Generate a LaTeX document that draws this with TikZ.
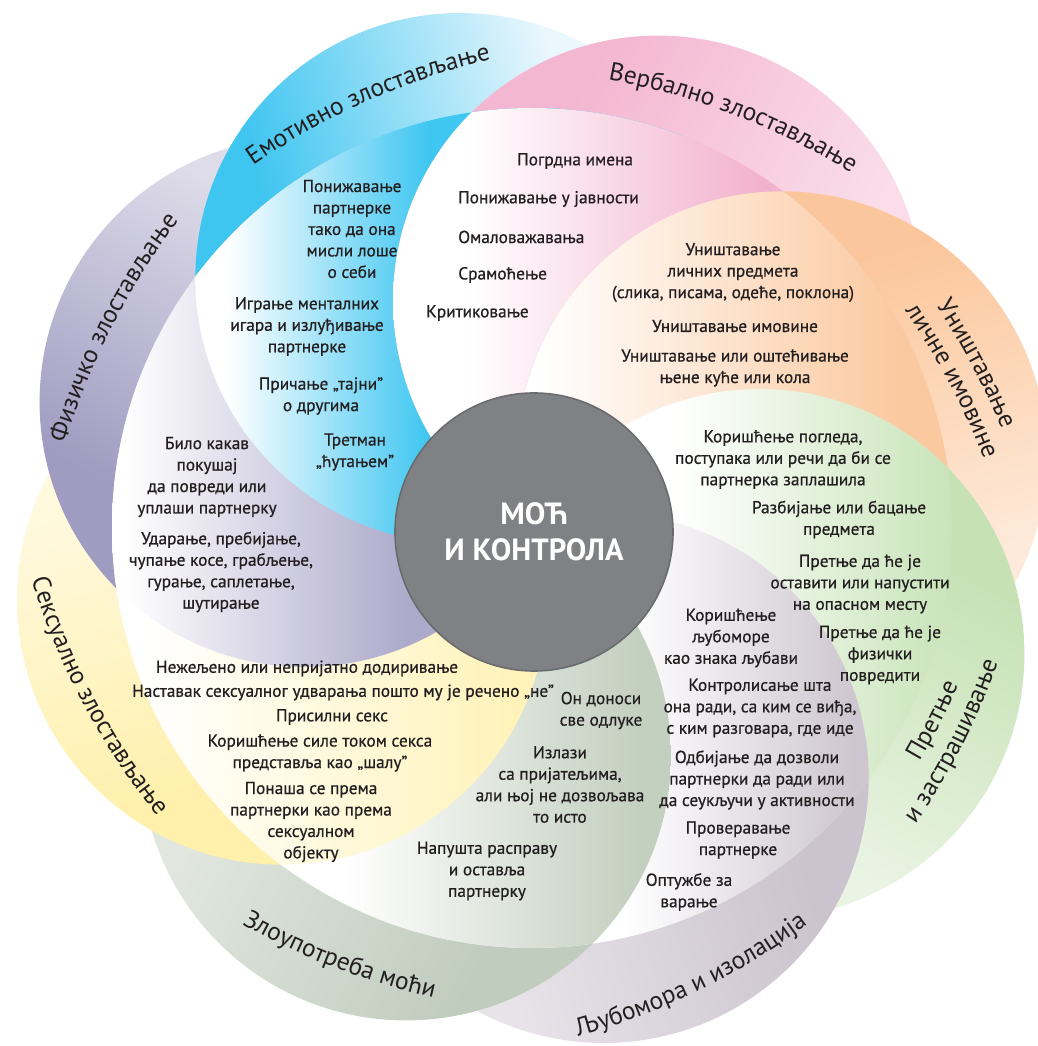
\documentclass[tikz,border=0pt]{standalone}
\usepackage{fontspec}
\setmainfont{PT Sans}
\newfontfamily\itemfont{PT Sans}[FakeBold=0.7]
\usetikzlibrary{calc,decorations.text}

\definecolor{textc}{HTML}{231F20}
\definecolor{hubc}{HTML}{808184}
\definecolor{hubline}{HTML}{6A6B6E}
% band start, band end and inner colour of each petal
\definecolor{emoA}{HTML}{3EC5F0}  \definecolor{emoB}{HTML}{EAF7FD}  \definecolor{emoI}{HTML}{3FC6F1}
\definecolor{verbA}{HTML}{F4B7D1} \definecolor{verbB}{HTML}{FADDE9} \definecolor{verbI}{HTML}{F2B1CD}
\definecolor{propA}{HTML}{FBC69B} \definecolor{propB}{HTML}{FEEADA} \definecolor{propI}{HTML}{FBC9A0}
\definecolor{thrA}{HTML}{C6E2B5}  \definecolor{thrB}{HTML}{EAF4E4}  \definecolor{thrI}{HTML}{C9E4BA}
\definecolor{jealA}{HTML}{CBC3CD} \definecolor{jealB}{HTML}{E7E3E9} \definecolor{jealI}{HTML}{CDC5CF}
\definecolor{powA}{HTML}{C0CCBD}  \definecolor{powB}{HTML}{E1E7DF}  \definecolor{powI}{HTML}{C3CFBF}
\definecolor{sexA}{HTML}{FFF0AC}  \definecolor{sexB}{HTML}{FFF9DE}  \definecolor{sexI}{HTML}{FFF3BA}
\definecolor{physA}{HTML}{9F9BC1} \definecolor{physB}{HTML}{DEDCE9} \definecolor{physI}{HTML}{ADA9CB}

\colorlet{bandA}{white}
\colorlet{bandB}{white}
\pgfdeclareverticalshading[bandA,bandB]{bandshade}{100bp}{%
  color(0bp)=(bandB); color(36bp)=(bandB); color(66bp)=(bandA); color(100bp)=(bandA)}
\newcommand\innershading[4]{%
  \pgfdeclarehorizontalshading{#1}{100bp}{%
    color(0bp)=(white); color(#2bp)=(white); color(#3bp)=(#4); color(100bp)=(#4)}}
\innershading{emo-in}{28}{47}{emoI}
\innershading{verb-in}{32}{60}{verbI}
\innershading{prop-in}{27}{61}{propI}
\innershading{thr-in}{42}{68}{thrI}
\innershading{jeal-in}{52}{74}{jealI}
\innershading{pow-in}{44}{72}{powI}
\innershading{sex-in}{37}{72}{sexI}
\innershading{phys-in}{33}{60}{physI}

\newcommand\bandfont{\fontsize{19}{22}\selectfont}
% arc labels: x, y of the baseline middle, outward angle, text
\newcommand\cwlabel[4]{%
  \path[decorate, decoration={text along path, text align=center,
      text={|\bandfont\color{textc}|#4}}]
    ($(#1,#2)+({#3+180}:700)+({#3+25}:700)$)
    arc[start angle={#3+25}, end angle={#3-25}, radius=700];}
\newcommand\ccwlabel[4]{%
  \path[decorate, decoration={text along path, text align=center,
      text={|\bandfont\color{textc}|#4}}]
    ($(#1,#2)+({#3+180}:700)+({#3-25}:700)$)
    arc[start angle={#3-25}, end angle={#3+25}, radius=700];}

\begin{document}
\begin{tikzpicture}[x=0.75pt, y=0.75pt,
  item/.style={align=center, text=textc, inner sep=0pt,
    font=\itemfont\fontsize{13}{16.1}\selectfont},
  hub/.style={circle, fill=hubc, draw=hubline, line width=1.2pt,
    minimum size=208.5pt, inner sep=0pt, text=white, align=center,
    font=\bfseries\fontsize{23}{27}\selectfont}]
\fill[white] (0,0) rectangle (1038,1046);
\useasboundingbox (0,0) rectangle (1038,1046);
\coordinate (C) at (532,518);

% outer bands
\foreach \n/\a in {emo/106,verb/61,prop/16,thr/-29,jeal/-74,pow/-119,sex/-164,phys/151}{
  \coordinate (\n) at ($(C)+(\a:260)$);
  \colorlet{bandA}{\n A}\colorlet{bandB}{\n B}
  \shade[shading=bandshade, shading angle=\a] (\n) circle[radius=265];
}
\begin{scope}
  \clip (phys) circle[radius=267];
  \colorlet{bandA}{emoA}\colorlet{bandB}{emoB}
  \shade[shading=bandshade, shading angle=106] (emo) circle[radius=265];
\end{scope}

% inner parts
\begin{scope}
  \clip (C) circle[radius=420];
  \foreach \n in {emo,verb,prop,thr,jeal,pow,sex,phys}
    \shade[shading=\n-in] (\n) circle[radius=265];
  % emotional lies over physical
  \clip (phys) circle[radius=267];
  \clip (emo) circle[radius=265];
  \begin{scope}[even odd rule]
    \clip (0,0) rectangle (1038,1046) (verb) circle[radius=265];
    \shade[shading=emo-in] (emo) circle[radius=265];
  \end{scope}
  \begin{scope}[even odd rule]
    \clip (verb) circle[radius=265];
    \clip (0,0) rectangle (1038,1046) (prop) circle[radius=265];
    \shade[shading=verb-in] (verb) circle[radius=265];
  \end{scope}
  \begin{scope}
    \clip (verb) circle[radius=265];
    \clip (prop) circle[radius=265];
    \shade[shading=prop-in] (prop) circle[radius=265];
  \end{scope}
\end{scope}

\node[hub] (hub) at (534,514) {МОЋ\\И КОНТРОЛА};

% labels
\cwlabel{367}{944.5}{114}{Емотивно злостављање}
\cwlabel{734}{931}{69}{Вербално злостављање}
\cwlabel{972}{680}{28}{Уништавање}
\cwlabel{949}{663}{28}{личне имовине}
\ccwlabel{940}{322}{-27}{Претње}
\ccwlabel{962}{300}{-27}{и застрашивање}
\ccwlabel{698}{55}{-64}{Љубомора и изолација}
\ccwlabel{335}{78}{-111}{Злоупотреба моћи}
\ccwlabel{83}{342}{-152}{Сексуално злостављање}
\cwlabel{112}{719}{153}{Физичко злостављање}

% emotional
\node[item] (emo1) at (352,817) {Понижавање\\партнерке\\тако да она\\мисли лоше\\о себи};
\node[item] (emo2) at (307,719.5) {Играње менталних\\игара и излуђивање\\партнерке};
\node[item] (emo3) at (321,650) {Причање „тајни”\\о другима};
\node[item] (emo4) at (355,594) {Третман\\„ћутањем”};
% verbal
\node[item, anchor=west] (verb1) at (517,885) {Погрдна имена};
\node[item, anchor=west] (verb2) at (458,847) {Понижавање у јавности};
\node[item, anchor=west] (verb3) at (458,809) {Омаловажавања};
\node[item, anchor=west] (verb4) at (458,771) {Срамоћење};
\node[item, anchor=west] (verb5) at (426,733) {Критиковање};
% property
\node[item] (prop1) at (733,773.5) {Уништавање\\личних предмета\\(слика, писама, одеће, поклона)};
\node[item] (prop2) at (735,720) {Уништавање имовине};
\node[item] (prop3) at (735,678) {Уништавање или оштећивање\\њене куће или кола};
% threats
\node[item] (thr1) at (783,586.5) {Коришћење погледа,\\поступака или речи да би се\\партнерка заплашила};
\node[item] (thr2) at (839,526.5) {Разбијање или бацање\\предмета};
\node[item] (thr3) at (860,462) {Претње да ће је\\оставити или напустити\\на опасном месту};
\node[item] (thr4) at (880,391) {Претње да ће је\\физички\\повредити};
% jealousy
\node[item] (jeal1) at (731,408) {Коришћење\\љубоморе\\као знака љубави};
\node[item] (jeal2) at (760,338) {Контролисање шта\\она ради, са ким се виђа,\\с ким разговара, где иде};
\node[item] (jeal3) at (757,266) {Одбијање да дозволи\\партнерки да ради или\\да сеукључи у активности};
\node[item] (jeal4) at (738,206) {Проверавање\\партнерке};
\node[item] (jeal5) at (689,154) {Оптужбе за\\варање};
% power
\node[item] (pow1) at (601,335.5) {Он доноси\\све одлуке};
\node[item] (pow2) at (560,261.5) {Излази\\са пријатељима,\\али њој не дозвољава\\то исто};
\node[item] (pow3) at (487,175) {Напушта расправу\\и оставља\\партнерку};
% sexual
\node[item] (sex1) at (307,377.5) {Нежељено или непријатно додиривање};
\node[item] (sex2) at (343,353.5) {Наставак сексуалног удварања пошто му је речено „не”};
\node[item] (sex3) at (332,329) {Присилни секс};
\node[item] (sex4) at (320,293) {Коришћење силе током секса\\представља као „шалу”};
\node[item] (sex5) at (311,224) {Понаша се према\\партнерки као према\\сексуалном\\објекту};
% physical
\node[item] (phys1) at (207,569) {Било какав\\покушај\\да повреди или\\уплаши партнерку};
\node[item] (phys2) at (221,474) {Ударање, пребијање,\\чупање косе, грабљење,\\гурање, саплетање,\\шутирање};
\end{tikzpicture}
\end{document}
